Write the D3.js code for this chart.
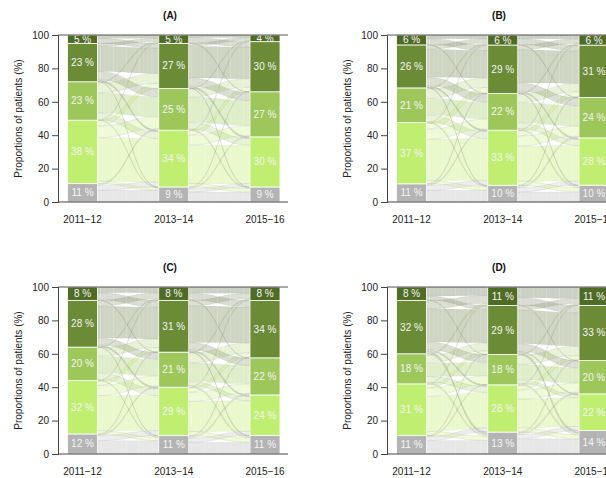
<!DOCTYPE html>
<html>
<head>
<meta charset="utf-8">
<script src="https://cdn.jsdelivr.net/npm/d3@7"></script>
<style>
  body { margin: 0; background: #fff; }
  svg { font-family: "Liberation Sans", Arial, sans-serif; }
</style>
</head>
<body>
<div id="chart"></div>
<script>
// categories bottom -> top
const categories = ["grey", "lime", "medium", "dark", "darkest"];
const years = ["2011\u221212", "2013\u221214", "2015\u221216"];
const panelTitles = ["(A)", "(B)", "(C)", "(D)"];
const yTicks = [0, 20, 40, 60, 80, 100];

// stratum percentages per period (bottom -> top)
const strataA = [[11, 38, 23, 23, 5], [9, 34, 25, 27, 5], [9, 30, 27, 30, 4]];
const strataB = [[11, 37, 21, 26, 6], [10, 33, 22, 29, 6], [10, 28, 24, 31, 6]];
const strataC = [[12, 32, 20, 28, 8], [11, 29, 21, 31, 8], [11, 24, 22, 34, 8]];
const strataD = [[11, 31, 18, 32, 8], [13, 28, 18, 29, 11], [14, 22, 20, 33, 11]];

// estimated flows between periods, rows = from, cols = to
const flowsA = [
  [[7, 3, 1, 0, 0], [1.5, 26, 7, 3, 0.5], [0.3, 4, 12, 6, 0.7], [0.2, 1, 5, 15, 1.8], [0, 0, 0, 3, 2]],
  [[6, 2, 0.7, 0.3, 0], [2, 23, 6, 2.5, 0.5], [0.7, 4, 15, 5, 0.3], [0.3, 1, 5, 19, 1.7], [0, 0, 0.3, 3.2, 1.5]]
];
const flowsB = [
  [[7, 3, 0.7, 0.3, 0], [2, 25, 6, 3.5, 0.5], [0.6, 4, 10, 5.7, 0.7], [0.4, 1, 5, 17, 2.6], [0, 0, 0.3, 3.5, 2.2]],
  [[6, 2.5, 1, 0.5, 0], [2.5, 21, 6, 3, 0.5], [1, 3.5, 12, 5, 0.5], [0.5, 1, 4.7, 20, 2.8], [0, 0, 0.3, 3.5, 2.2]]
];
const flowsC = [
  [[8, 3, 0.7, 0.3, 0], [2, 21, 6, 2.5, 0.5], [0.6, 4, 10, 5, 0.4], [0.4, 1, 4, 19, 3.6], [0, 0, 0.3, 4.2, 3.5]],
  [[7, 2.5, 1, 0.5, 0], [2.5, 18, 5.5, 2.5, 0.5], [1, 2.5, 11, 6, 0.5], [0.5, 1, 4.2, 22, 3.3], [0, 0, 0.3, 4, 3.7]]
];
const flowsD = [
  [[8, 2.5, 0.3, 0.2, 0], [2.5, 21, 5, 2, 0.5], [1, 3.5, 8, 4.5, 1], [1.5, 1, 4.5, 20, 5], [0, 0, 0.2, 2.3, 5.5]],
  [[9, 2.5, 1, 0.5, 0], [2.5, 17, 5.5, 2.5, 0.5], [1, 2, 9, 5.5, 0.5], [1.5, 0.5, 4.3, 20, 2.7], [0, 0, 0.2, 4.5, 6.3]]
];

const COLORS = ["#b4b4b4", "#c0ee70", "#9dc75b", "#6b8b36", "#506b25"],
  FLOW_COLORS = ["#c2c2c2", "#c8f07e", "#b0d47a", "#86966a", "#7d8a6c"],
  WIDTH = 606,
  HEIGHT = 478,
  BAR_W = 30;

const svg = d3.select("#chart").append("svg")
  .attr("width", WIDTH)
  .attr("height", HEIGHT);

const panels = [
  { strata: strataA, flows: flowsA, dx: 0, dy: 0 },
  { strata: strataB, flows: flowsB, dx: 329, dy: 0 },
  { strata: strataC, flows: flowsC, dx: 0, dy: 252 },
  { strata: strataD, flows: flowsD, dx: 329, dy: 252 }
];

const y = d3.scaleLinear().domain([0, 100]).range([202, 35]),
  x = d3.scalePoint().domain(years).range([82.5, 265]);

// cumulative stacking, scaled so each bar fills 0..100
function stackBar(vals) {
  const total = d3.sum(vals);
  let acc = 0;
  return vals.map((v, i) => {
    const lo = acc;
    acc += v * 100 / total;
    return { i: i, v: v, lo: lo, hi: acc };
  });
}

function flowPath(x1, s0, s1, x2, t0, t1) {
  const xm = (x1 + x2) / 2;
  return `M${x1},${y(s1)} C${xm},${y(s1)} ${xm},${y(t1)} ${x2},${y(t1)}`
    + ` L${x2},${y(t0)} C${xm},${y(t0)} ${xm},${y(s0)} ${x1},${y(s0)} Z`;
}

function drawPanel(p, k) {
  const g = svg.append("g").attr("transform", `translate(${p.dx},${p.dy})`);
  const bars = p.strata.map(stackBar);

  // flows
  p.flows.forEach((m, t) => {
    const src = bars[t], dst = bars[t + 1],
      x1 = x(years[t]) + BAR_W / 2,
      x2 = x(years[t + 1]) - BAR_W / 2,
      rowSum = m.map(r => d3.sum(r)),
      colSum = categories.map((c, j) => d3.sum(m, r => r[j]));
    let srcPos = src.map(s => s.lo),
      dstPos = dst.map(s => s.lo),
      list = [];
    for (let i = 0; i < 5; i++) {
      for (let j = 0; j < 5; j++) {
        if (m[i][j] <= 0) continue;
        const ws = m[i][j] / rowSum[i] * (src[i].hi - src[i].lo);
        list.push({ i: i, j: j, s0: srcPos[i], s1: srcPos[i] + ws });
        srcPos[i] += ws;
      }
    }
    for (let j = 0; j < 5; j++) {
      for (let i = 0; i < 5; i++) {
        const f = list.find(d => d.i === i && d.j === j);
        if (!f) continue;
        const wd = m[i][j] / colSum[j] * (dst[j].hi - dst[j].lo);
        f.t0 = dstPos[j];
        f.t1 = dstPos[j] + wd;
        dstPos[j] += wd;
      }
    }
    // stayers first, movers on top
    list.sort((a, b) => (a.i === a.j ? 0 : 1) - (b.i === b.j ? 0 : 1));
    g.append("g").selectAll("path")
      .data(list)
      .enter()
      .append("path")
      .attr("d", d => flowPath(x1, d.s0, d.s1, x2, d.t0, d.t1))
      .attr("fill", d => FLOW_COLORS[d.i])
      .attr("fill-opacity", d => d.i === d.j ? 0.4 : 0.3)
      .attr("stroke", "#6a7160")
      .attr("stroke-opacity", d => d.i === d.j ? 0.12 : 0.22)
      .attr("stroke-width", 0.5);

    // faint vertical streaks seen across the flow area
    g.append("g").selectAll("line")
      .data(d3.range(x1 + 3, x2 - 1, 4.3))
      .enter()
      .append("line")
      .attr("x1", d => d).attr("x2", d => d)
      .attr("y1", y(99.5)).attr("y2", y(0.5))
      .attr("stroke", "#fff")
      .attr("stroke-opacity", (d, i) => i % 3 === 0 ? 0.35 : 0.15)
      .attr("stroke-width", 0.6);
  });

  // strata bars
  bars.forEach((bar, t) => {
    const bg = g.append("g");
    bg.selectAll("rect")
      .data(bar)
      .enter()
      .append("rect")
      .attr("x", x(years[t]) - BAR_W / 2)
      .attr("width", BAR_W)
      .attr("y", d => y(d.hi))
      .attr("height", d => y(d.lo) - y(d.hi))
      .attr("fill", d => COLORS[d.i])
      .attr("stroke", "#fff")
      .attr("stroke-width", 0.8);
    bg.selectAll("text")
      .data(bar)
      .enter()
      .append("text")
      .attr("x", x(years[t]))
      .attr("y", d => (y(d.lo) + y(d.hi)) / 2 + 3.5)
      .attr("text-anchor", "middle")
      .attr("font-size", 10)
      .attr("fill", "#f4f4f4")
      .text(d => Math.round(d.v) + " %");
  });

  // frame lines
  g.append("line")
    .attr("x1", 58).attr("x2", 288)
    .attr("y1", y(100)).attr("y2", y(100))
    .attr("stroke", "#555").attr("stroke-width", 1);
  g.append("line")
    .attr("x1", 58).attr("x2", 288)
    .attr("y1", y(0)).attr("y2", y(0))
    .attr("stroke", "#444").attr("stroke-width", 1);

  // y axis
  const ax = g.append("g")
    .attr("transform", "translate(58,0)")
    .call(d3.axisLeft(y).tickValues(yTicks).tickSize(6).tickPadding(3));
  ax.select(".domain").attr("stroke", "#444");
  ax.selectAll(".tick line").attr("stroke", "#444");
  ax.selectAll("text").attr("font-size", 10).attr("fill", "#222")
    .attr("font-family", "Liberation Sans, Arial, sans-serif");

  g.append("text")
    .attr("transform", `translate(22,${y(50)}) rotate(-90)`)
    .attr("text-anchor", "middle")
    .attr("font-size", 10)
    .attr("fill", "#222")
    .text("Proportions of patients (%)");

  // x labels
  g.append("g").selectAll("text")
    .data(years)
    .enter()
    .append("text")
    .attr("x", d => x(d))
    .attr("y", 223)
    .attr("text-anchor", "middle")
    .attr("font-size", 10)
    .attr("fill", "#222")
    .text(d => d);

  g.append("text")
    .attr("x", 170)
    .attr("y", 19)
    .attr("text-anchor", "middle")
    .attr("font-size", 10)
    .attr("font-weight", "bold")
    .attr("fill", "#111")
    .text(panelTitles[k]);
}

panels.forEach(drawPanel);
</script>
</body>
</html>
